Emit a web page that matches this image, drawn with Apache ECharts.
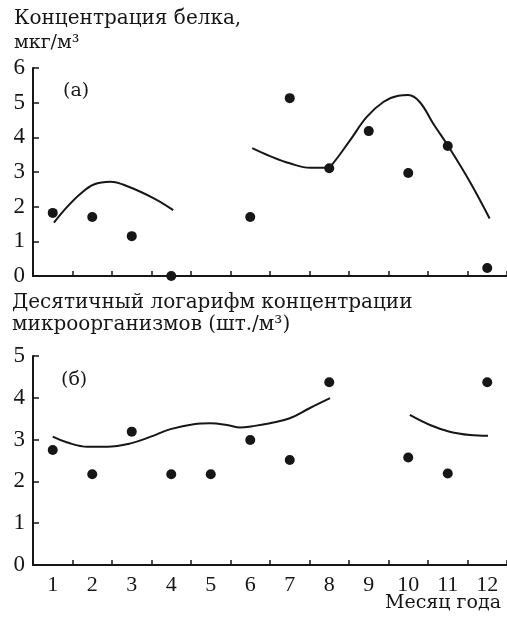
<!DOCTYPE html>
<html>
<head>
<meta charset="utf-8">
<script src="https://cdn.jsdelivr.net/npm/echarts@6/dist/echarts.min.js"></script>
<style>
  html, body { margin: 0; padding: 0; background: #fff; }
  #chart { width: 507px; height: 617px; }
</style>
</head>
<body>
<div id="chart"></div>
<script>
// months on the x axis
var months = ['1', '2', '3', '4', '5', '6', '7', '8', '9', '10', '11', '12'];

// (a) protein concentration, points
var proteinMonths = [1, 2, 3, 4, 6, 7, 8, 9, 10, 11, 12];
var proteinValues = [1.82, 1.70, 1.15, 0, 1.70, 5.13, 3.11, 4.18, 2.97, 3.75, 0.23];
// (a) fitted curves
var proteinCurve1X = [1.03, 1.37, 1.71, 2.04, 2.46, 2.89, 3.56, 4.05];
var proteinCurve1Y = [1.54, 2.0, 2.38, 2.64, 2.72, 2.59, 2.24, 1.90];
var proteinCurve2X = [6.05, 6.5, 7.0, 7.52, 7.94, 8.06, 8.53, 8.95, 9.37, 9.75, 10.0, 10.29, 10.63, 11.05, 11.56, 12.06];
var proteinCurve2Y = [3.69, 3.46, 3.25, 3.12, 3.12, 3.2, 3.92, 4.59, 5.02, 5.2, 5.22, 5.02, 4.4, 3.68, 2.72, 1.66];

// (б) log10 microorganism concentration, points
var microMonths = [1, 2, 3, 4, 5, 6, 7, 8, 10, 11, 12];
var microValues = [2.75, 2.17, 3.19, 2.17, 2.17, 2.99, 2.51, 4.37, 2.57, 2.19, 4.37];
// (б) fitted curves
var microCurve1X = [1.0, 1.37, 1.88, 2.38, 2.97, 3.48, 3.98, 4.57, 4.99, 5.41, 5.75, 6.05, 6.5, 7.0, 7.5, 8.02];
var microCurve1Y = [3.07, 2.93, 2.83, 2.83, 2.91, 3.07, 3.25, 3.37, 3.39, 3.35, 3.29, 3.32, 3.39, 3.51, 3.75, 3.99];
var microCurve2X = [10.04, 10.55, 11.05, 11.56, 12.02];
var microCurve2Y = [3.59, 3.35, 3.19, 3.11, 3.09];

var ink = '#161616';
var font = 'Liberation Serif';
var textFont = 'DejaVu Serif';

function pairs(xs, ys) {
  return xs.map(function (x, i) { return [x, ys[i]]; });
}

var chart = echarts.init(document.getElementById('chart'), null, { renderer: 'canvas' });

function valueX(gridIndex) {
  return {
    type: 'value', gridIndex: gridIndex, min: 0.5, max: 12.5,
    axisLine: { show: true, onZero: false, lineStyle: { color: ink, width: 2 } },
    axisTick: { show: false }, axisLabel: { show: false }, splitLine: { show: false }
  };
}
function categoryX(gridIndex, showLabels) {
  return {
    type: 'category', gridIndex: gridIndex, data: months, boundaryGap: true, position: 'bottom',
    axisLine: { show: false },
    axisTick: { show: true, inside: true, length: 5, interval: 0, lineStyle: { color: ink, width: 1.5 } },
    axisLabel: { show: showLabels, color: ink, fontFamily: font, fontSize: 22, margin: 9 },
    splitLine: { show: false }
  };
}
function valueY(gridIndex, max) {
  return {
    type: 'value', gridIndex: gridIndex, min: 0, max: max, interval: 1,
    axisLine: { show: true, lineStyle: { color: ink, width: 2 } },
    axisTick: { show: true, inside: true, length: 6, lineStyle: { color: ink, width: 1.5 } },
    axisLabel: { color: ink, fontFamily: font, fontSize: 23, margin: 8 },
    splitLine: { show: false }
  };
}
function dots(xi, yi, xs, ys) {
  return {
    type: 'scatter', xAxisIndex: xi, yAxisIndex: yi, data: pairs(xs, ys),
    symbolSize: 10, itemStyle: { color: ink, opacity: 1 }, z: 3
  };
}
function curve(xi, yi, xs, ys) {
  return {
    type: 'line', xAxisIndex: xi, yAxisIndex: yi, data: pairs(xs, ys),
    smooth: 0.4, showSymbol: false, symbol: 'none',
    lineStyle: { color: ink, width: 2 }
  };
}
function label(text, x, y, size, align) {
  return {
    type: 'text', left: x, top: y,
    style: { text: text, fill: ink, fontFamily: textFont, fontSize: size, align: align || 'left' }
  };
}

chart.setOption({
  animation: false,
  backgroundColor: '#fff',
  grid: [
    { left: 33, right: 0, top: 68, height: 208 },
    { left: 33, right: 0, top: 356, height: 209 }
  ],
  xAxis: [valueX(0), categoryX(0, false), valueX(1), categoryX(1, true)],
  yAxis: [valueY(0, 6), valueY(1, 5)],
  series: [
    curve(0, 0, proteinCurve1X, proteinCurve1Y),
    curve(0, 0, proteinCurve2X, proteinCurve2Y),
    dots(0, 0, proteinMonths, proteinValues),
    curve(2, 1, microCurve1X, microCurve1Y),
    curve(2, 1, microCurve2X, microCurve2Y),
    dots(2, 1, microMonths, microValues)
  ],
  graphic: [
    label('Концентрация белка,', 14, 9, 20),
    label('мкг/м³', 14, 34, 19),
    label('(a)', 63, 82, 19),
    label('Десятичный логарифм концентрации', 12, 293, 20),
    label('микроорганизмов (шт./м³)', 12, 315, 20),
    label('(б)', 61, 371, 19),
    label('Месяц года', 385, 594, 19)
  ]
});
</script>
</body>
</html>
